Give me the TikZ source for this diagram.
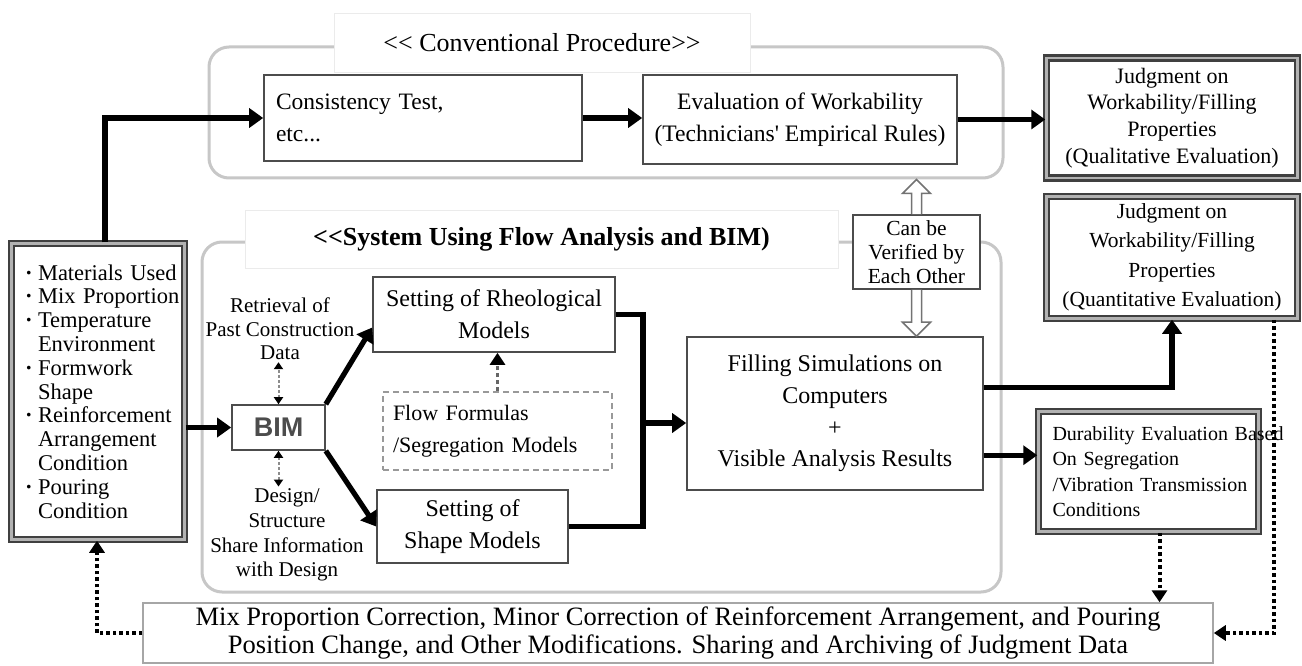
\documentclass[tikz,border=0pt]{standalone}
\usepackage{fontspec}
\newfontfamily\tnr{Liberation Serif}
\newfontfamily\bimfont{Liberation Sans}
\usetikzlibrary{arrows.meta,calc}
\newcommand\fsz[2]{\fontsize{#1}{#2}\selectfont}
\newcommand\bl[1]{\makebox[14pt][l]{\hspace{1pt}\textbf{·}}\mbox{#1}}
\newcommand\cl[1]{\hspace*{14pt}\mbox{#1}}
\begin{document}
\tnr
\begin{tikzpicture}[x=1pt,y=-1pt,
  box/.style={draw=black!70, line width=1.6pt, fill=white, inner sep=0pt, align=center},
  dbox/.style={draw=black!75, line width=2.5pt, double=black!30, double distance=2.2pt, fill=white, inner sep=0pt, align=center},
  grp/.style={draw=black!22, line width=3pt, rounded corners=20pt, inner sep=0pt},
  lbl/.style={draw=black!8, line width=0.8pt, fill=white, inner sep=0pt},
  txt/.style={inner sep=2pt, align=center},
  arr/.style={line width=5.2pt, -{Triangle[length=14pt,width=19pt]}},
  thk/.style={line width=5.2pt},
  dotarr/.style={line width=4pt, dash pattern=on 3.5pt off 3pt, -{Triangle[length=12pt,width=15pt]}},
  gdarr/.style={draw=black!45, line width=2pt, dash pattern=on 3pt off 2pt, {Triangle[length=7pt,width=9pt,color=black]}-{Triangle[length=7pt,width=9pt,color=black]}},
  gdot/.style={draw=black!60, line width=3pt, dash pattern=on 4pt off 3pt, -{Triangle[length=12pt,width=15pt,color=black]}},
  dsh/.style={draw=black!40, line width=2pt, dash pattern=on 6pt off 4pt, fill=white, inner sep=0pt},
  hol/.style={draw=black!55, fill=white, line width=1.5pt, line join=miter},
  botbox/.style={draw=black!35, line width=1.5pt, fill=white, inner sep=0pt, align=center}
]
\useasboundingbox (0,0) rectangle (1302,666);
\fill[white] (0,0) rectangle (1302,666);

% group frames
\node[grp, minimum width=794, minimum height=131] (conv) at (606,112.5) {};
\node[grp, minimum width=799, minimum height=350] (sys) at (601.5,417) {};
\node[lbl, minimum width=416, minimum height=59, font=\fsz{26}{30}] (convlbl) at (542,42.5) {\raisebox{-2pt}{<\kern0pt< Conventional Procedure>\kern0pt>}};
\node[lbl, minimum width=593, minimum height=58, font=\fsz{26}{30}\bfseries] (syslbl) at (541.5,239) {\raisebox{-3pt}{<\kern0pt<System Using Flow Analysis and BIM)}};

% conventional procedure
\node[box, minimum width=318, minimum height=86, text width=294, inner xsep=12pt, align=left, font=\fsz{23.5}{32}] (cons) at (423,118) {Consistency Test,\\etc...};
\node[box, minimum width=314, minimum height=89, font=\fsz{23.6}{32}] (eval) at (800,119.5) {Evaluation of Workability\\(Technicians' Empirical Rules)};

% judgments
\node[dbox, minimum width=251, minimum height=120, font=\fsz{22}{26.7}] (judg1) at (1172,118) {Judgment on\\Workability/Filling\\Properties\\(Qualitative Evaluation)};
\node[dbox, minimum width=251, minimum height=122, font=\fsz{21.5}{29.5}] (judg2) at (1172,257.5) {Judgment on\\Workability/Filling\\Properties\\(Quantitative Evaluation)};
\node[dbox, minimum width=220, minimum height=120, text width=192, inner xsep=14pt, align=left, font=\fsz{20}{25.5}] (dur) at (1148.5,471.5) {\mbox{Durability Evaluation Based}\\On Segregation\\\mbox{/Vibration Transmission}\\Conditions};

% input box
\node[dbox, minimum width=173, minimum height=296, text width=148, align=left, font=\fsz{22.5}{23.8}] (inp) at (98,391.5) {\bl{Materials Used}\\\bl{Mix Proportion}\\\bl{Temperature}\\\cl{Environment}\\\bl{Formwork}\\\cl{Shape}\\\bl{Reinforcement}\\\cl{Arrangement}\\\cl{Condition}\\\bl{Pouring}\\\cl{Condition}};

% system part
\node[txt, fill=white, font=\fsz{21}{23.5}] (retr) at (280,329) {Retrieval of\\Past Construction\\Data};
\node[txt, fill=white, font=\fsz{21}{24.7}] (des) at (287,535) {Design/\\Structure\\Share Information\\with Design};
\node[box, minimum width=93, minimum height=45, font=\bimfont\bfseries\fontsize{27}{28}\selectfont\color{black!70}] (bim) at (278.5,427.5) {BIM};
\node[box, minimum width=242, minimum height=75, font=\fsz{24}{32}] (rheo) at (494,314.5) {Setting of Rheological\\Models};
\node[dsh, minimum width=229, minimum height=78, text width=209, inner xsep=10pt, align=left, font=\fsz{22}{32}] (flow) at (497.5,431) {Flow Formulas\\/Segregation Models};
\node[box, minimum width=191, minimum height=73, font=\fsz{24}{32}] (shape) at (472.5,526.5) {Setting of\\Shape Models};
\node[box, minimum width=296, minimum height=153, font=\fsz{24}{31.7}] (fill) at (835,413.5) {Filling Simulations on\\Computers\\+\\Visible Analysis Results};
\node[box, minimum width=127, minimum height=74, font=\fsz{21.5}{24}] (can) at (916.5,252) {Can be\\Verified by\\Each Other};

% bottom box
\node[botbox, minimum width=1070, minimum height=60, font=\fsz{26.5}{28}] (bot) at (678,633) {Mix Proportion Correction, Minor Correction of Reinforcement Arrangement, and Pouring\\Position Change, and Other Modifications. Sharing and Archiving of Judgment Data};

% connectors - conventional
\draw[arr] ([xshift=7pt]inp.north) |- (cons.west);
\draw[arr] (cons.east) -- (cons.east -| eval.west);
\draw[arr] (eval.east) -- (eval.east -| judg1.west);

% connectors - system
\draw[arr] (inp.east |- bim.west) -- (bim.west);
\draw[arr] (bim.north east) -- ($(rheo.south west)!0.33!(rheo.north west)$);
\draw[arr] (bim.south east) -- (shape.west);
\draw[gdarr] (bim.north) -- (bim.north |- retr.south);
\draw[gdarr] (bim.south) -- (bim.south |- des.north);
\draw[gdot] (flow.north) -- (flow.north |- rheo.south);
\coordinate (j) at (643,423);
\draw[thk] (rheo.east) -| (j);
\draw[thk] (shape.east) -| (j);
\draw[arr] (j) -- (j -| fill.west);
\coordinate (f1) at ($(fill.north east)!0.33!(fill.south east)$);
\coordinate (f2) at ($(fill.north east)!0.77!(fill.south east)$);
\draw[arr] (f1) -| (judg2.south);
\draw[arr] (f2) -- (f2 -| dur.west);

% hollow arrows
\draw[hol] let \p1=(can.north), \p2=(conv.south) in
  (\x1-5pt,\y1) -- (\x1-5pt,\y2-14pt) -- (\x1-14pt,\y2-14pt) -- (\x1,\y2) -- (\x1+14pt,\y2-14pt) -- (\x1+5pt,\y2-14pt) -- (\x1+5pt,\y1);
\draw[hol] let \p1=(can.south), \p2=(fill.north) in
  (\x1-5pt,\y1) -- (\x1-5pt,\y2+14pt) -- (\x1-14pt,\y2+14pt) -- (\x1,\y2) -- (\x1+14pt,\y2+14pt) -- (\x1+5pt,\y2+14pt) -- (\x1+5pt,\y1);

% dotted feedback
\draw[dotarr] ([xshift=11pt]dur.south) -- ([xshift=11pt]dur.south |- bot.north);
\draw[dotarr] ([xshift=102pt]judg2.south) |- (bot.east);
\draw[dotarr] (bot.west) -| ([xshift=-1pt]inp.south);
\end{tikzpicture}
\end{document}
